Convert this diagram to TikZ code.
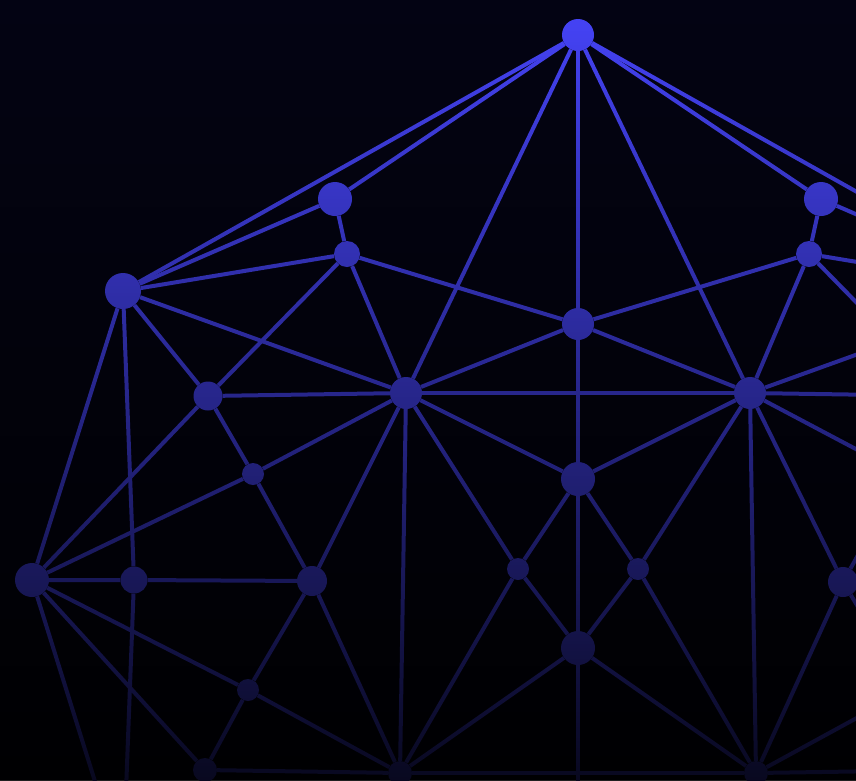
\documentclass[tikz,border=0pt]{standalone}
\usepackage{tikz}
\usetikzlibrary{fadings}
\definecolor{net}{RGB}{72,70,255}
\definecolor{night}{RGB}{4,4,20}
\tikzfading[name=fadedown, top color=transparent!100, bottom color=transparent!10]

\begin{document}
\begin{tikzpicture}[x=1pt, y=-1pt,
dot/.style={circle, fill=net, inner sep=0pt, minimum size=#1},
dot/.default=24pt,
link/.style={draw=net, line width=4pt}
]
\fill[night] (0,0) rectangle (856,780);
\useasboundingbox (0,0) rectangle (856,780);
\clip (0,0) rectangle (856,780);

\node[dot=32pt] (apex) at (578,35) {};
\node[dot=32pt] (crown) at (578,324) {};
\node[dot=34pt] (heart) at (578,479) {};
\node[dot=34pt] (base) at (578,648) {};
\node[dot] (foot) at (578,800) {};
\node[dot=34pt] (wingL) at (335,199) {};
\node[dot=34pt] (wingR) at (821,199) {};
\node[dot=26pt] (kneeL) at (347,254) {};
\node[dot=26pt] (kneeR) at (809,254) {};
\node[dot=36pt] (rimL) at (123,291) {};
\node[dot=36pt] (rimR) at (1033,291) {};
\node[dot=29pt] (sideL) at (208,396) {};
\node[dot=29pt] (sideR) at (948,396) {};
\node[dot=32pt] (hubL) at (406,393) {};
\node[dot=32pt] (hubR) at (750,393) {};
\node[dot=22pt] (linkL) at (253,474) {};
\node[dot=22pt] (linkR) at (903,474) {};
\node[dot=34pt] (edgeL) at (32,580) {};
\node[dot=34pt] (edgeR) at (1124,580) {};
\node[dot=27pt] (midL) at (134,580) {};
\node[dot=27pt] (midR) at (1022,580) {};
\node[dot=30pt] (legL) at (312,581) {};
\node[dot=30pt] (legR) at (843,582) {};
\node[dot=22pt] (innerL) at (518,569) {};
\node[dot=22pt] (innerR) at (638,569) {};
\node[dot=22pt] (lowL) at (248,690) {};
\node[dot=22pt] (lowR) at (908,690) {};
\node[dot] (toeL) at (205,770) {};
\node[dot] (toeR) at (951,770) {};
\node[dot] (rootL) at (400,773) {};
\node[dot] (rootR) at (756,773) {};
\node[dot] (tailL) at (123,871) {};
\node[dot] (tailR) at (1033,871) {};

\draw[link] (apex) -- (crown) -- (heart) -- (base) -- (foot);
\draw[link] (hubL) -- (hubR);
\draw[link] (rootL) -- (rootR);

\draw[link] (apex) -- (rimL);
\draw[link] (apex) -- (wingL);
\draw[link] (apex) -- (hubL);
\draw[link] (wingL) -- (rimL);
\draw[link] (wingL) -- (kneeL);
\draw[link] (kneeL) -- (rimL);
\draw[link] (kneeL) -- (sideL);
\draw[link] (kneeL) -- (hubL);
\draw[link] (kneeL) -- (crown);
\draw[link] (rimL) -- (sideL);
\draw[link] (rimL) -- (hubL);
\draw[link] (rimL) -- (edgeL);
\draw[link] (rimL) -- (midL);
\draw[link] (sideL) -- (hubL);
\draw[link] (sideL) -- (linkL);
\draw[link] (sideL) -- (edgeL);
\draw[link] (hubL) -- (crown);
\draw[link] (hubL) -- (linkL);
\draw[link] (hubL) -- (legL);
\draw[link] (hubL) -- (rootL);
\draw[link] (hubL) -- (innerL);
\draw[link] (hubL) -- (heart);
\draw[link] (linkL) -- (edgeL);
\draw[link] (linkL) -- (legL);
\draw[link] (edgeL) -- (midL) -- (legL);
\draw[link] (edgeL) -- (lowL);
\draw[link] (edgeL) -- (toeL);
\draw[link] (edgeL) -- (tailL);
\draw[link] (midL) -- (tailL);
\draw[link] (legL) -- (lowL);
\draw[link] (legL) -- (rootL);
\draw[link] (innerL) -- (heart);
\draw[link] (innerL) -- (base);
\draw[link] (innerL) -- (rootL);
\draw[link] (lowL) -- (toeL) -- (rootL);
\draw[link] (lowL) -- (rootL);
\draw[link] (base) -- (rootL);

\draw[link] (apex) -- (rimR);
\draw[link] (apex) -- (wingR);
\draw[link] (apex) -- (hubR);
\draw[link] (wingR) -- (rimR);
\draw[link] (wingR) -- (kneeR);
\draw[link] (kneeR) -- (rimR);
\draw[link] (kneeR) -- (sideR);
\draw[link] (kneeR) -- (hubR);
\draw[link] (kneeR) -- (crown);
\draw[link] (rimR) -- (sideR);
\draw[link] (rimR) -- (hubR);
\draw[link] (rimR) -- (edgeR);
\draw[link] (rimR) -- (midR);
\draw[link] (sideR) -- (hubR);
\draw[link] (sideR) -- (linkR);
\draw[link] (sideR) -- (edgeR);
\draw[link] (hubR) -- (crown);
\draw[link] (hubR) -- (linkR);
\draw[link] (hubR) -- (legR);
\draw[link] (hubR) -- (rootR);
\draw[link] (hubR) -- (innerR);
\draw[link] (hubR) -- (heart);
\draw[link] (linkR) -- (edgeR);
\draw[link] (linkR) -- (legR);
\draw[link] (edgeR) -- (midR);
\draw[link] (edgeR) -- (lowR);
\draw[link] (edgeR) -- (toeR);
\draw[link] (edgeR) -- (tailR);
\draw[link] (midR) -- (tailR);
\draw[link] (legR) -- (lowR);
\draw[link] (legR) -- (rootR);
\draw[link] (innerR) -- (heart);
\draw[link] (innerR) -- (base);
\draw[link] (innerR) -- (rootR);
\draw[link] (lowR) -- (toeR) -- (rootR);
\draw[link] (lowR) -- (rootR);
\draw[link] (base) -- (rootR);

\fill[black, path fading=fadedown] (-20,-20) rectangle (876,800);
\end{tikzpicture}
\end{document}
